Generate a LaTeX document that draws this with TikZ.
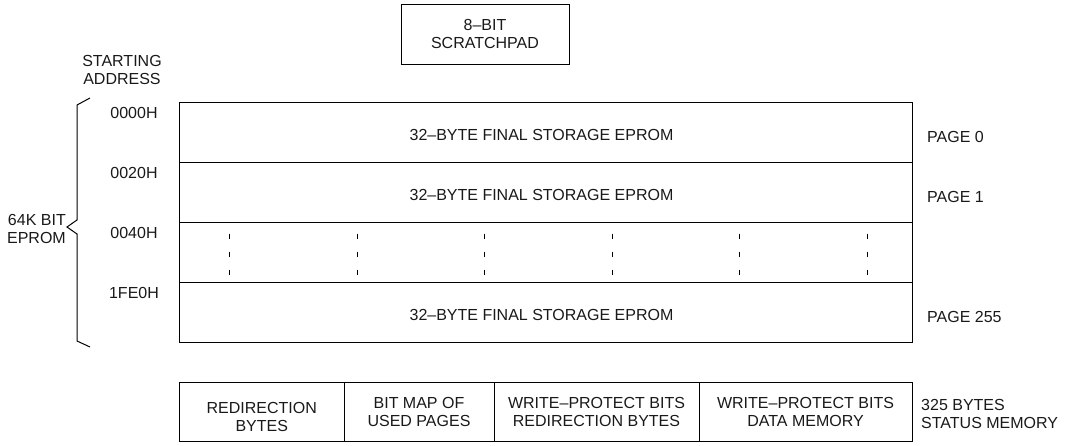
\documentclass[tikz,border=0pt]{standalone}
\usepackage{fontspec}
\setmainfont{Liberation Sans}
\usetikzlibrary{calc}

\begin{document}
\begin{tikzpicture}[x=1pt,y=-1pt,
		every node/.style={font=\fontsize{16}{18.5}\selectfont, text=black!90, inner sep=0pt, align=center},
		frame/.style={draw, line width=1pt},
		row/.style={frame, minimum width=733pt, minimum height=60pt},
		status/.style={frame, minimum height=59pt}]
			\def\xl{179};
			\def\xr{912};
			\def\xc{545.5};
			\def\rowh{60};
			\def\ytop{102.5};

			\useasboundingbox (0,0) rectangle (1077,445);

			\node[frame, minimum width=168pt, minimum height=60pt] (scratchpad) at (485,34) {8–BIT\\SCRATCHPAD};
			\node (start) at (122,70) {STARTING\\ADDRESS};

			\begin{scope}
				\node[row] (page0) at (\xc,{\ytop+0.5*\rowh}) {};
				\node[row] (page1) at (\xc,{\ytop+1.5*\rowh}) {};
				\node[row] (gap) at (\xc,{\ytop+2.5*\rowh}) {};
				\node[row] (page255) at (\xc,{\ytop+3.5*\rowh}) {};
				\foreach \r in {page0, page1, page255}
					\node at ($ (\r) + (-4,2) $) {32–BYTE FINAL STORAGE EPROM};
			\end{scope}

			\begin{scope}[line width=1pt, dash pattern=on 5pt off 13pt]
				\foreach \k in {0,...,5}
					\draw ($ (gap.north west) + ({51+127.6*\k},11.5) $) -- ++(0,42);
			\end{scope}

			\node (addr0) at (134,{\ytop+10}) {0000H};
			\node (addr1) at (134,{\ytop+\rowh+10}) {0020H};
			\node (addr2) at (134,{\ytop+2*\rowh+10}) {0040H};
			\node (addr3) at (134,{\ytop+3*\rowh+10}) {1FE0H};

			\node[anchor=west] (pg0) at (927,{\ytop+0.5*\rowh+4}) {PAGE 0};
			\node[anchor=west] (pg1) at (927,{\ytop+1.5*\rowh+4}) {PAGE 1};
			\node[anchor=west] (pg255) at (927,{\ytop+3.5*\rowh+4}) {PAGE 255};

			\draw[line width=1pt] (90,98) -- (77,105) -- (77,220) -- (67,227) -- (77,234) -- (77,341) -- (90,347);
			\node[anchor=east, align=right] (eprom) at (66,229) {64K BIT\\EPROM};

			\node[status, minimum width=164.5pt] (redir) at (261.75,412) {};
			\node at ($ (redir) + (0,5) $) {REDIRECTION\\BYTES};
			\node[status, minimum width=150pt] (bitmap) at (419,412) {BIT MAP OF\\USED PAGES};
			\node[status, minimum width=205pt] (wpredir) at (596.5,412) {WRITE–PROTECT BITS\\REDIRECTION BYTES};
			\node[status, minimum width=213pt] (wpdata) at (805.5,412) {WRITE–PROTECT BITS\\DATA MEMORY};
			\node[anchor=west, align=left] (statusmem) at (921,414) {325 BYTES\\STATUS MEMORY};
		\end{tikzpicture}
\end{document}
